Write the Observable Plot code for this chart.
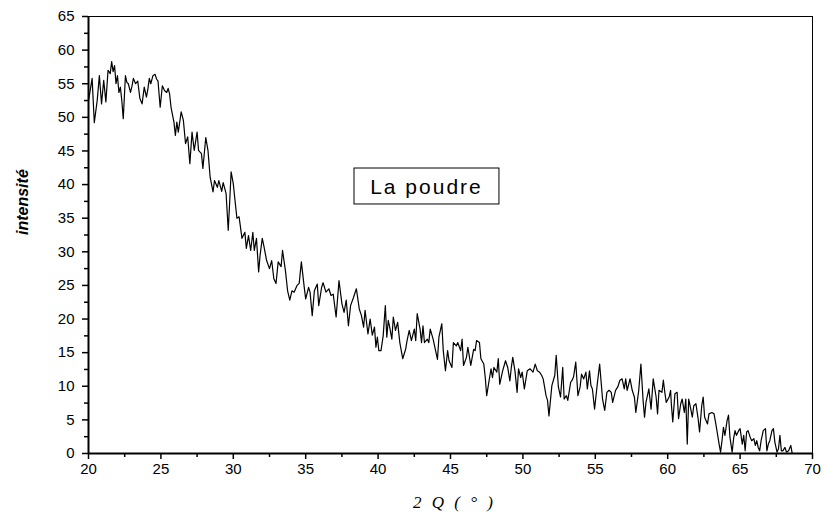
<!DOCTYPE html>
<html><head><meta charset="utf-8">
<script src="https://cdn.jsdelivr.net/npm/d3@7"></script>
<script src="https://cdn.jsdelivr.net/npm/@observablehq/plot@0.6"></script>
<style>body{margin:0;background:#fff}#chart{width:827px;height:527px}</style>
</head><body><div id="chart"></div>
<script>
// 2θ (degrees) and intensity
const angle = [
20.0,20.1,20.25,20.4,20.6,20.75,20.9,21.05,21.2,21.35,21.5,21.6,21.7,21.8,21.9,22.0,22.1,22.2,22.3,22.4,22.55,22.65,22.75,22.9,23.0,23.1,23.25,23.4,23.55,23.7,23.85,24.0,24.1,24.2,24.3,24.45,24.6,24.7,24.8,24.95,25.1,25.25,25.4,25.5,25.6,25.7,25.9,26.0,26.1,26.2,26.4,26.55,26.7,26.85,27.0,27.15,27.3,27.5,27.6,27.8,27.9,28.1,28.25,28.4,28.6,28.7,28.9,29.0,29.2,29.3,29.5,29.65,29.75,29.85,30.0,30.1,
30.25,30.4,30.6,30.8,30.9,31.05,31.2,31.35,31.45,31.6,31.75,31.85,32.0,32.1,32.3,32.5,32.65,32.8,32.95,33.1,33.3,33.4,33.6,33.75,33.9,34.05,34.2,34.4,34.55,34.7,34.9,35.0,35.2,35.3,35.45,35.6,35.8,35.9,36.1,36.2,36.4,36.6,36.75,36.9,37.1,37.3,37.5,37.65,37.8,37.95,38.1,38.3,38.5,38.7,38.85,39.0,39.1,39.3,39.45,39.6,39.75,39.85,39.95,40.05,
40.2,40.35,40.5,40.6,40.7,40.8,40.95,41.05,41.2,41.35,41.5,41.7,41.9,42.0,42.15,42.3,42.5,42.6,42.7,42.9,43.0,43.1,43.2,43.4,43.5,43.6,43.8,43.9,44.1,44.2,44.4,44.5,44.65,44.8,44.9,45.1,45.2,45.4,45.5,45.7,45.8,45.9,46.1,46.2,46.4,46.5,46.6,46.7,46.8,47.0,47.1,47.3,47.4,47.5,47.7,47.8,47.9,48.0,48.2,48.3,48.4,48.6,48.8,48.95,49.1,49.2,49.3,49.45,49.6,49.7,49.85,49.95,50.1,
50.3,50.5,50.7,50.85,51.0,51.15,51.3,51.4,51.6,51.7,51.8,52.0,52.2,52.3,52.45,52.6,52.75,52.85,53.0,53.1,53.3,53.4,53.5,53.65,53.8,53.95,54.05,54.2,54.35,54.45,54.6,54.7,54.8,54.95,55.15,55.3,55.5,55.65,55.8,55.95,56.1,56.2,56.4,56.55,56.7,56.85,57.0,57.1,57.2,57.4,57.55,57.7,57.8,58.0,58.15,58.3,58.4,58.5,58.7,58.85,59.0,59.2,59.3,59.4,59.6,59.7,59.8,59.9,60.1,
60.2,60.25,60.35,60.5,60.65,60.75,60.9,61.0,61.15,61.25,61.35,61.45,61.55,61.7,61.8,61.95,62.1,62.2,62.35,62.45,62.55,62.75,62.85,63.05,63.2,63.3,63.4,63.55,63.65,63.75,63.85,63.95,64.1,64.2,64.3,64.45,64.55,64.65,64.75,64.9,65.0,65.15,65.25,65.35,65.45,65.55,65.7,65.8,65.95,66.05,66.15,66.25,66.35,66.45,66.6,66.75,66.85,66.95,67.05,67.2,67.3,67.4,67.55,67.65,67.75,67.85,67.95,68.1,68.2,68.35,68.5,68.6
];
const intensity = [
52.5,53.8,55.8,49.2,52.5,56.2,52,55.5,52.3,57,56.5,58.3,56.8,57.7,55,56.2,53.7,54.5,52.5,49.8,56.2,55.2,55,53.7,54.6,55.8,55,55.4,52.8,52,54.5,53,54.2,55.8,55,56.2,56.4,55.7,55.4,51.5,54.7,54,53.7,54.3,53.5,51.5,49.3,47.3,49.3,47.8,50.8,49.6,46.1,47.1,43.1,47.8,45.1,47.8,45.1,44.6,42.4,47,45.1,41.1,38.9,40.6,39.6,40.6,39,40.3,38.7,33.2,37.4,41.9,40.1,38,
35,35.2,32,32.9,30.5,32.4,30.2,32.9,30.2,32,27,29.5,32,31,28.7,27.5,28.7,26,25.3,28.5,27.8,30.2,27.2,24.2,22.8,24.2,24,25,25.3,28.5,24.7,23,24.7,24,20.5,24.2,25.2,22,24.7,25.4,24,24.5,23.5,23.7,20.3,25.7,22.3,21,22.8,19,22,23.2,24.5,21.5,20.5,18.8,21.3,17.8,20,17.6,18.8,15.8,17.3,15.3,
15.3,17.5,22,17.3,19.8,18.8,17,20.3,18.3,19.5,16.5,14.1,15.5,16.8,18.3,16.8,18.5,16.8,20.8,18.5,16.5,19,16.5,17,16.5,18.5,17,16,14,17.3,19.3,15.3,12.3,15.3,13.8,12.8,16.5,16,16.5,15.3,17,13.1,14.3,15.8,13.1,14.3,15.5,15.3,16.8,16.5,14.1,13.3,11.3,8.6,11.3,12.6,11.3,12.8,12.1,14.1,10.3,12.3,13.8,12.8,10.8,12.8,14.3,12.3,9.1,12.6,11.3,12.1,9.6,
12.3,12.6,12.1,13.3,12.3,12.1,11.6,11.1,8.6,7.9,5.6,10.1,11.6,14.6,9.9,8.4,12.8,8.1,8.6,7.9,10.6,10.9,11.4,13.6,8.6,9.9,11.8,11.1,12.1,9.6,12.3,10.1,9.6,6.6,10.6,13.3,8.1,6.4,9.1,9.4,9.1,7.6,9.4,9.9,10.9,11.1,9.6,11.1,9.4,11.1,9.4,8.4,6.1,9.4,13.3,7.9,5.4,7.6,9.6,6.6,11.1,8.4,5.9,9.4,9.1,10.9,9.1,7.6,8.4,
9.4,7.4,4.7,8.9,9.1,5.2,7.4,8.1,6.1,8.1,1.4,8.1,7.1,5.4,7.1,7.4,5.2,3.2,7.1,8.4,5.4,4.4,5.9,6.1,5.9,4.7,3.4,1.4,0.2,1.9,3.9,2.7,4.9,5.7,2.4,0.2,2.2,3.4,2.7,3.4,3.7,1.4,2.7,0.4,3.2,3.4,2.4,1.9,2.2,1.2,1.9,0.9,0.4,1.9,3.4,3.7,0.4,1.4,1.9,3.4,3.7,1.7,0.2,0.7,2.7,0.4,0.4,0.9,0.2,0.4,1.2,0.0
];
const xMajor = [20,25,30,35,40,45,50,55,60,65,70];
const xMinor = [22.5,27.5,32.5,37.5,42.5,47.5,52.5,57.5,62.5,67.5];
const yMajor = [0,5,10,15,20,25,30,35,40,45,50,55,60,65];
const yMinor = [2.5,7.5,12.5,17.5,22.5,27.5,32.5,37.5,42.5,47.5,52.5,57.5,62.5];
const yLabel = "intensité";
const xLabel = "2 Q ( ° )";
const legendText = "La poudre";

const pts = angle.map((a, i) => ({x: a, y: intensity[i]}));

const chart = Plot.plot({
  width: 827, height: 527,
  marginLeft: 88, marginRight: 15, marginTop: 16, marginBottom: 74,
  x: {domain: [20, 70]},
  y: {domain: [0, 65]},
  style: {fontFamily: "'Liberation Sans', Arial, sans-serif", fontSize: "15px", color: "#000", background: "#fff"},
  marks: [
    Plot.frame({stroke: "#000", strokeWidth: 1}),
    Plot.line(pts, {x: "x", y: "y", stroke: "#000", strokeWidth: 1.2, clip: true}),
    Plot.axisX({ticks: xMajor, tickSize: 6, tickPadding: 4, strokeWidth: 1.5, tickFormat: d => d, label: null,
      fontFamily: "'Liberation Sans Narrow', 'Liberation Sans', Arial, sans-serif", fontSize: 15}),
    Plot.axisX({ticks: xMinor, tickSize: 4, strokeWidth: 1.5, tickFormat: () => "", label: null}),
    Plot.axisY({ticks: yMajor, tickSize: 6, tickPadding: 8, strokeWidth: 1.5, tickFormat: d => d, label: null, fontSize: 15}),
    Plot.axisY({ticks: yMinor, tickSize: 4, strokeWidth: 1.5, tickFormat: () => "", label: null}),
    Plot.ruleX([20], {stroke: "#000", strokeWidth: 2}),
    Plot.ruleY([0], {stroke: "#000", strokeWidth: 2}),
    Plot.rect([legendText], {x1: 38.37, x2: 48.38, y1: 37.04, y2: 42.39, fill: "#fff", stroke: "#000", strokeWidth: 1}),
    Plot.text([legendText], {x: 43.34, y: 39.64, text: d => d, fontSize: 21, fill: "#000", className: "legend-txt"}),
    Plot.text([yLabel], {frameAnchor: "left", dx: -66, rotate: -90, text: d => d, fontSize: 16, fontWeight: "bold", fontStyle: "italic", fill: "#000"}),
    Plot.text([xLabel], {frameAnchor: "bottom", dy: 54, dx: 4, text: d => d, fontSize: 17, fontStyle: "italic",
      fontFamily: "'Liberation Serif', 'Times New Roman', serif", fill: "#000", className: "xlabel-txt"})
  ]
});
d3.select(chart).selectAll(".legend-txt text").attr("letter-spacing", "2px");
d3.select(chart).selectAll(".xlabel-txt text").attr("letter-spacing", "3px");
document.getElementById("chart").appendChild(chart);
</script>
</body></html>
